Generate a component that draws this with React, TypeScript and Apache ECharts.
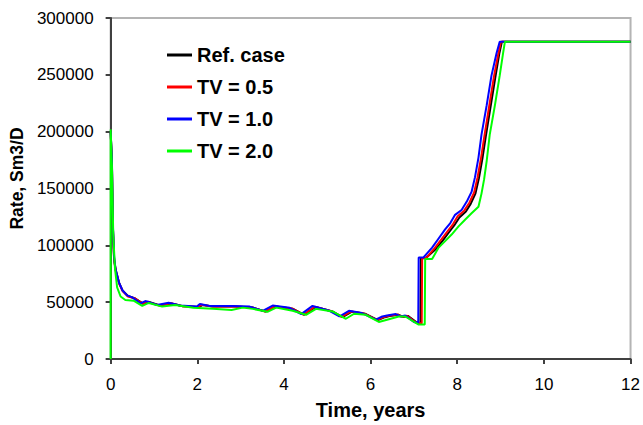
import React, { useEffect, useRef } from "react";
import * as echarts from "echarts";

const seriesNames = ["Ref. case", "TV = 0.5", "TV = 1.0", "TV = 2.0"];
const seriesColors = ["#000000", "#ff0000", "#0000ff", "#00ff00"];

const xTicks = [0, 2, 4, 6, 8, 10, 12];
const yTicks = [0, 50000, 100000, 150000, 200000, 250000, 300000];

const refCase: [number, number][] = [
  [0, 200000], [0.03, 173000], [0.05, 119000], [0.08, 88000], [0.12, 78000], [0.2, 66500],
  [0.28, 60000], [0.4, 55500], [0.55, 53500], [0.76, 48500], [0.87, 50300], [1.14, 47000],
  [1.41, 48800], [1.67, 46400], [2.04, 45700], [2.12, 47600], [2.36, 46100], [2.88, 46100],
  [3.27, 45400], [3.58, 41700], [3.81, 46100], [4.2, 44300], [4.47, 38900], [4.73, 45800],
  [5.12, 41900], [5.35, 36900], [5.57, 41600], [5.87, 39800], [6.17, 34200], [6.33, 36800],
  [6.44, 37800], [6.64, 39000], [6.75, 37000], [6.86, 37900], [7.06, 32200], [7.15, 31200],
  [7.16, 88600], [7.27, 88600], [7.5, 96500], [7.66, 104000], [7.81, 111500], [7.93, 117500],
  [8.05, 124500], [8.2, 129800], [8.31, 136500], [8.42, 145500], [8.5, 159000], [8.58, 176000],
  [8.66, 196000], [8.77, 222000], [8.88, 248000], [8.97, 268500], [9.03, 279000], [12, 279000],
];

const tv05: [number, number][] = [
  [0, 200000], [0.03, 172000], [0.05, 118000], [0.08, 87000], [0.12, 77000], [0.2, 66000],
  [0.28, 59500], [0.4, 55000], [0.55, 53500], [0.74, 48500], [0.85, 50500], [1.12, 47000],
  [1.39, 49000], [1.65, 46500], [2.02, 45800], [2.1, 47800], [2.34, 46200], [2.86, 46200],
  [3.25, 45600], [3.56, 41800], [3.79, 46300], [4.18, 44500], [4.45, 39000], [4.71, 46000],
  [5.1, 42000], [5.33, 37000], [5.55, 41800], [5.85, 40000], [6.15, 34300], [6.31, 37000],
  [6.42, 38000], [6.62, 39200], [6.73, 37100], [6.84, 38000], [7.04, 32300], [7.18, 31300],
  [7.19, 88800], [7.28, 88800], [7.48, 97500], [7.63, 105000], [7.78, 112500], [7.9, 118500],
  [8.01, 125500], [8.16, 130500], [8.28, 137500], [8.39, 146500], [8.47, 160000], [8.55, 177000],
  [8.63, 197000], [8.74, 223000], [8.85, 249000], [8.95, 269000], [9.01, 279000], [12, 279000],
];

const tv10: [number, number][] = [
  [0, 200000], [0.03, 175000], [0.05, 120000], [0.08, 90000], [0.11, 79300], [0.19, 67700],
  [0.27, 60500], [0.38, 56000], [0.5, 54200], [0.69, 49000], [0.8, 51000], [1.07, 47500],
  [1.34, 49500], [1.6, 47000], [1.99, 46100], [2.06, 48400], [2.29, 46700], [2.82, 46700],
  [3.21, 46100], [3.51, 42400], [3.74, 47000], [4.13, 45000], [4.4, 39500], [4.66, 46700],
  [5.05, 42400], [5.28, 37400], [5.5, 42400], [5.8, 40400], [6.12, 34600], [6.27, 37400],
  [6.38, 38300], [6.58, 39500], [6.69, 37400], [6.8, 38300], [7.0, 32600], [7.1, 31700],
  [7.11, 89300], [7.22, 89300], [7.42, 98000], [7.57, 106000], [7.72, 114000], [7.84, 119600],
  [7.95, 126800], [8.1, 131100], [8.22, 138500], [8.33, 147000], [8.41, 160000], [8.49, 177200],
  [8.56, 197400], [8.68, 223300], [8.79, 249300], [8.91, 269500], [8.98, 279000], [12, 279000],
];

const tv20: [number, number][] = [
  [0, 0], [0.001, 202000], [0.03, 170000], [0.06, 110000], [0.1, 80000], [0.15, 63000],
  [0.23, 55000], [0.34, 51900], [0.53, 51300], [0.73, 46700], [0.88, 49300], [1.19, 46100],
  [1.49, 47500], [1.91, 45000], [2.36, 44100], [2.79, 43200], [3.05, 45200], [3.28, 44100],
  [3.62, 41500], [3.82, 45200], [4.2, 42400], [4.51, 38900], [4.74, 44100], [5.12, 41800],
  [5.43, 35400], [5.62, 39800], [5.89, 38900], [6.19, 32600], [6.38, 34600], [6.65, 37400],
  [6.8, 37400], [7.11, 30300], [7.25, 30300], [7.26, 87900], [7.42, 87900], [7.57, 98000],
  [7.72, 103700], [7.87, 109500], [8.03, 116700], [8.18, 122500], [8.33, 128200], [8.41, 131100],
  [8.49, 134000], [8.56, 145500], [8.62, 158000], [8.68, 174400], [8.75, 197400], [8.87, 223300],
  [8.98, 249300], [9.06, 269500], [9.1, 279000], [12, 279000],
];

const seriesData = [refCase, tv05, tv10, tv20];

const FONT = "Liberation Sans, Arial, sans-serif";

export default function App() {
  const ref = useRef<HTMLDivElement>(null);

  useEffect(() => {
    if (!ref.current) return;
    const chart = echarts.init(ref.current, undefined, { renderer: "svg" });
    const axisLineStyle = { color: "#404040", width: 2 };
    chart.setOption({
      animation: false,
      backgroundColor: "#ffffff",
      textStyle: { fontFamily: FONT },
      grid: {
        left: 110,
        top: 18,
        right: 10,
        bottom: 60,
        show: true,
        borderColor: "#b4b4b4",
        borderWidth: 2,
        backgroundColor: "transparent",
      },
      legend: {
        orient: "vertical",
        left: 162,
        top: 40,
        itemWidth: 25,
        itemHeight: 3,
        itemGap: 12,
        icon: "rect",
        data: seriesNames,
        textStyle: {
          fontFamily: FONT,
          fontSize: 20,
          fontWeight: "bold",
          color: "#000",
          lineHeight: 20,
        },
      },
      xAxis: {
        type: "value",
        min: xTicks[0],
        max: xTicks[xTicks.length - 1],
        interval: 2,
        name: "Time, years",
        nameLocation: "middle",
        nameGap: 41,
        nameTextStyle: { fontFamily: FONT, fontSize: 20, fontWeight: "bold", color: "#000" },
        axisLine: { show: true, onZero: false, lineStyle: axisLineStyle },
        axisTick: { show: true, length: 5, lineStyle: axisLineStyle },
        axisLabel: { fontFamily: FONT, fontSize: 17, color: "#000", margin: 17 },
        splitLine: { show: false },
      },
      yAxis: {
        type: "value",
        min: yTicks[0],
        max: yTicks[yTicks.length - 1],
        interval: 50000,
        name: "Rate, Sm3/D",
        nameLocation: "middle",
        nameGap: 72,
        nameTextStyle: {
          fontFamily: FONT,
          fontSize: 17.5,
          fontWeight: "bold",
          color: "#000",
          padding: [0, 0, 0, 20],
        },
        axisLine: { show: true, lineStyle: axisLineStyle },
        axisTick: { show: true, length: 5, lineStyle: axisLineStyle },
        axisLabel: {
          fontFamily: FONT,
          fontSize: 17,
          color: "#000",
          margin: 17,
          formatter: (v: number) => String(v),
        },
        splitLine: { show: false },
      },
      series: seriesNames.map((name, i) => ({
        name,
        type: "line",
        data: seriesData[i],
        showSymbol: false,
        symbol: "none",
        color: seriesColors[i],
        lineStyle: { color: seriesColors[i], width: 2 },
        z: 2 + i,
      })),
    });
    return () => chart.dispose();
  }, []);

  return (
    <div
      ref={ref}
      style={{ position: "fixed", left: 0, top: 0, width: 643, height: 425, background: "#fff" }}
    />
  );
}
